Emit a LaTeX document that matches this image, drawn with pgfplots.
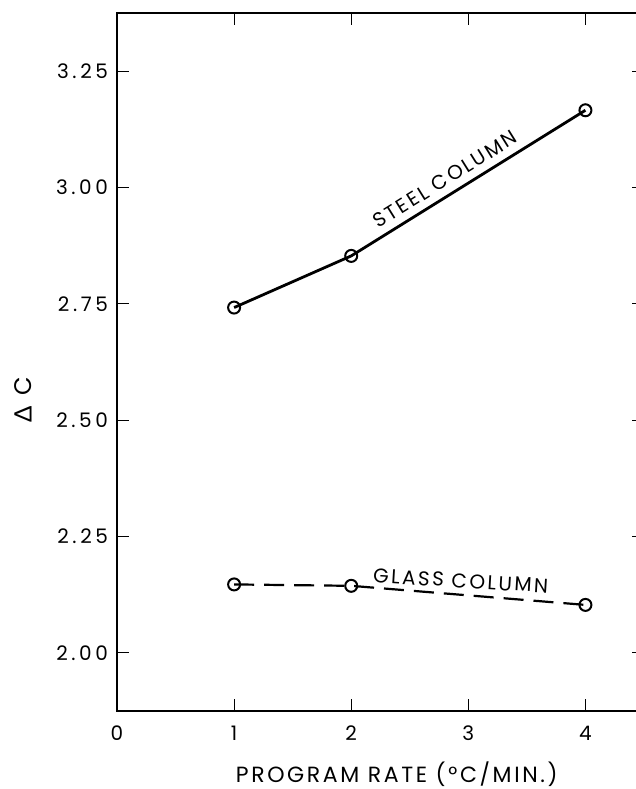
\documentclass[border=0pt]{standalone}
\usepackage{fontspec}
\setmainfont{Poppins}
\newfontfamily\spfont[LetterSpace=12]{Poppins}
\newfontfamily\tkfont[LetterSpace=18]{Poppins}
\newfontfamily\greekfont{Lato}
\usepackage{pgfplots}
\pgfplotsset{compat=1.18}
\begin{document}
\begin{tikzpicture}
\begin{axis}[
  scale only axis,
  width=263.5pt, height=349pt,
  xmin=0, xmax=4.5,
  ymin=1.875, ymax=3.375,
  xtick={0,1,2,3,4},
  ytick={2.00,2.25,2.50,2.75,3.00,3.25},
  yticklabels={2.00,2.25,2.50,2.75,3.00,3.25},
  tick align=inside,
  major tick length=6pt,
  tick style={line width=0.6pt, black},
  axis line style={line width=1.3pt},
  /pgf/number format/assume math mode=true,
  ticklabel style={font=\tkfont\fontsize{10}{12}\selectfont},
  xticklabel style={yshift=-4pt},
  yticklabel style={xshift=-1pt},
  xlabel={PROGRAM RATE (°C/MIN.)},
  xlabel style={font=\spfont\fontsize{11}{13}\selectfont, at={(axis description cs:0.531,-0.090)}, anchor=center},
  ylabel={{\greekfont Δ}\hspace{5pt}C},
  ylabel style={font=\fontsize{12}{14}\selectfont, at={(axis description cs:-0.178,0.446)}, anchor=center},
  clip=false,
]
\addplot[line width=1.4pt, black, mark=o, mark size=3pt, mark options={solid, fill=white, line width=1pt}]
  coordinates {(1,2.742) (2,2.853) (4,3.166)};
\addplot[line width=1.1pt, black, dash pattern=on 10pt off 5pt, mark=o, mark size=3pt, mark options={solid, fill=white, line width=1pt}]
  coordinates {(1,2.147) (2,2.144) (4,2.103)};
\node[rotate=32, font=\spfont\fontsize{10}{12}\selectfont] at (axis cs:2.80,3.018) {STEEL COLUMN};
\node[rotate=-3.5, font=\spfont\fontsize{10}{12}\selectfont] at (axis cs:2.935,2.155) {GLASS COLUMN};
\end{axis}
\pgfresetboundingbox
\useasboundingbox (-58.5pt,-39pt) rectangle (259.5pt,355.5pt);
\end{tikzpicture}
\end{document}
